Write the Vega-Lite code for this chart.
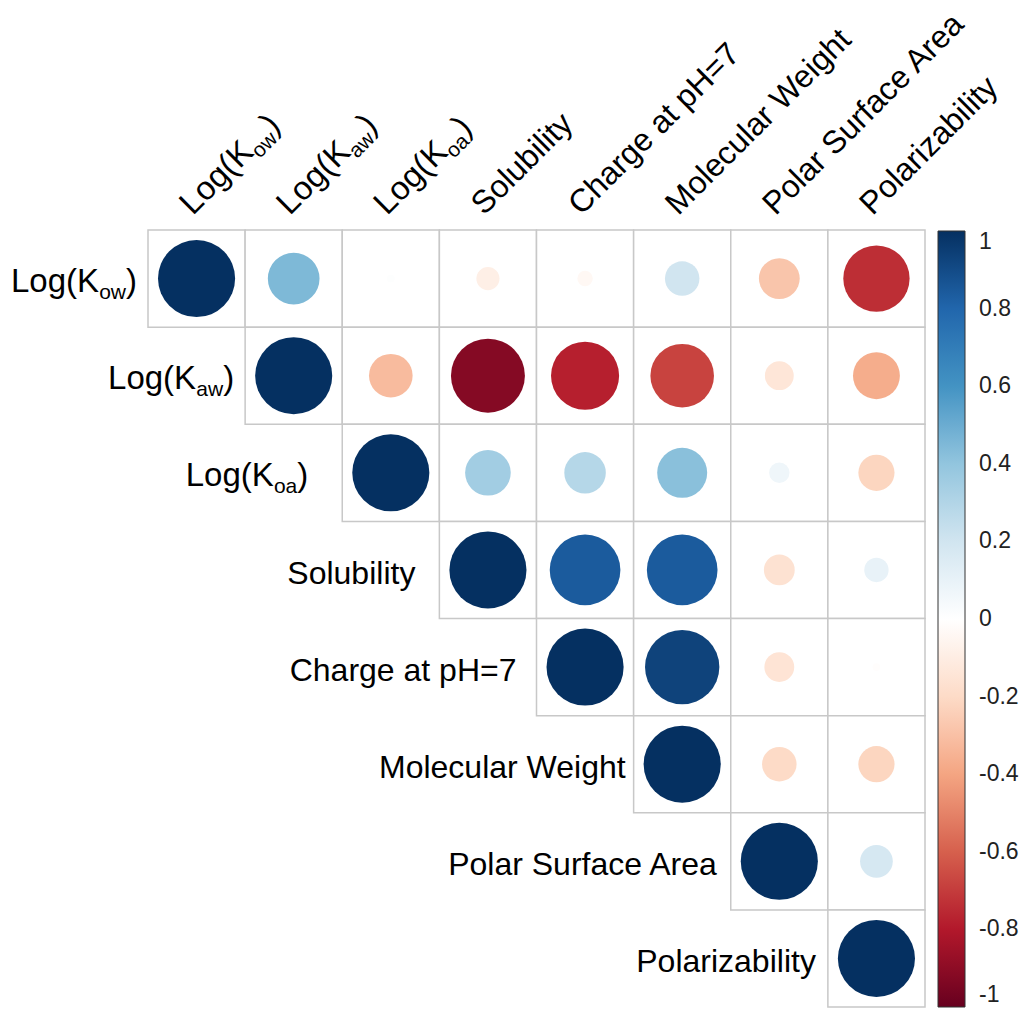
{
  "$schema": "https://vega.github.io/schema/vega-lite/v6.json",
  "width": 777,
  "height": 777,
  "autosize": "none",
  "padding": {"left": 148, "top": 230, "right": 94, "bottom": 13},
  "background": "white",
  "config": {"view": {"stroke": null}, "text": {"font": "Liberation Sans, Arial, sans-serif", "color": "#000000"}},
  "datasets": {
    "cells": [
      {"row": "Log(Kow)", "col": "Log(Kow)", "r": 1},
      {"row": "Log(Kow)", "col": "Log(Kaw)", "r": 0.45},
      {"row": "Log(Kow)", "col": "Log(Koa)", "r": 0.01},
      {"row": "Log(Kow)", "col": "Solubility", "r": -0.09},
      {"row": "Log(Kow)", "col": "Charge at pH=7", "r": -0.04},
      {"row": "Log(Kow)", "col": "Molecular Weight", "r": 0.2},
      {"row": "Log(Kow)", "col": "Polar Surface Area", "r": -0.28},
      {"row": "Log(Kow)", "col": "Polarizability", "r": -0.74},
      {"row": "Log(Kaw)", "col": "Log(Kaw)", "r": 1},
      {"row": "Log(Kaw)", "col": "Log(Koa)", "r": -0.32},
      {"row": "Log(Kaw)", "col": "Solubility", "r": -0.92},
      {"row": "Log(Kaw)", "col": "Charge at pH=7", "r": -0.78},
      {"row": "Log(Kaw)", "col": "Molecular Weight", "r": -0.68},
      {"row": "Log(Kaw)", "col": "Polar Surface Area", "r": -0.14},
      {"row": "Log(Kaw)", "col": "Polarizability", "r": -0.37},
      {"row": "Log(Koa)", "col": "Log(Koa)", "r": 1},
      {"row": "Log(Koa)", "col": "Solubility", "r": 0.35},
      {"row": "Log(Koa)", "col": "Charge at pH=7", "r": 0.29},
      {"row": "Log(Koa)", "col": "Molecular Weight", "r": 0.42},
      {"row": "Log(Koa)", "col": "Polar Surface Area", "r": 0.07},
      {"row": "Log(Koa)", "col": "Polarizability", "r": -0.22},
      {"row": "Solubility", "col": "Solubility", "r": 1},
      {"row": "Solubility", "col": "Charge at pH=7", "r": 0.84},
      {"row": "Solubility", "col": "Molecular Weight", "r": 0.84},
      {"row": "Solubility", "col": "Polar Surface Area", "r": -0.16},
      {"row": "Solubility", "col": "Polarizability", "r": 0.1},
      {"row": "Charge at pH=7", "col": "Charge at pH=7", "r": 1},
      {"row": "Charge at pH=7", "col": "Molecular Weight", "r": 0.93},
      {"row": "Charge at pH=7", "col": "Polar Surface Area", "r": -0.15},
      {"row": "Charge at pH=7", "col": "Polarizability", "r": -0.01},
      {"row": "Molecular Weight", "col": "Molecular Weight", "r": 1},
      {"row": "Molecular Weight", "col": "Polar Surface Area", "r": -0.2},
      {"row": "Molecular Weight", "col": "Polarizability", "r": -0.22},
      {"row": "Polar Surface Area", "col": "Polar Surface Area", "r": 1},
      {"row": "Polar Surface Area", "col": "Polarizability", "r": 0.18},
      {"row": "Polarizability", "col": "Polarizability", "r": 1}
    ],
    "labels": [
      {"name": "Log(Kow)", "main": "Log(K", "sub": "ow", "close": ")"},
      {"name": "Log(Kaw)", "main": "Log(K", "sub": "aw", "close": ")"},
      {"name": "Log(Koa)", "main": "Log(K", "sub": "oa", "close": ")"},
      {"name": "Solubility", "main": "Solubility", "sub": "", "close": ""},
      {"name": "Charge at pH=7", "main": "Charge at pH=7", "sub": "", "close": ""},
      {"name": "Molecular Weight", "main": "Molecular Weight", "sub": "", "close": ""},
      {"name": "Polar Surface Area", "main": "Polar Surface Area", "sub": "", "close": ""},
      {"name": "Polarizability", "main": "Polarizability", "sub": "", "close": ""}
    ]
  },
  "layer": [
    {
      "data": {"name": "cells"},
      "mark": {"type": "rect", "fill": "white", "stroke": "#c8c8c8", "strokeWidth": 1.5},
      "encoding": {
        "x": {"field": "col", "type": "nominal", "axis": null, "scale": {"domain": ["Log(Kow)","Log(Kaw)","Log(Koa)","Solubility","Charge at pH=7","Molecular Weight","Polar Surface Area","Polarizability"], "paddingInner": 0, "paddingOuter": 0}},
        "y": {"field": "row", "type": "nominal", "axis": null, "scale": {"domain": ["Log(Kow)","Log(Kaw)","Log(Koa)","Solubility","Charge at pH=7","Molecular Weight","Polar Surface Area","Polarizability"], "paddingInner": 0, "paddingOuter": 0}}
      }
    },
    {
      "data": {"name": "cells"},
      "mark": {"type": "circle", "opacity": 1, "stroke": null},
      "encoding": {
        "x": {"field": "col", "type": "nominal", "axis": null},
        "y": {"field": "row", "type": "nominal", "axis": null},
        "size": {"field": "r", "type": "quantitative", "legend": null, "scale": {"type": "linear", "domain": [-1, 0, 1], "range": [5945, 0, 5945]}},
        "color": {"field": "r", "type": "quantitative",
          "scale": {"type": "linear", "interpolate": "rgb", "domain": [-1, -0.8, -0.6, -0.4, -0.2, 0, 0.2, 0.4, 0.6, 0.8, 1],
            "range": ["#67001F", "#B2182B", "#D6604D", "#F4A582", "#FDDBC7", "#FFFFFF", "#D1E5F0", "#92C5DE", "#4393C3", "#2166AC", "#053061"]},
          "legend": {"orient": "none", "legendX": 790, "legendY": 1, "direction": "vertical", "title": null, "padding": 0,
            "gradientLength": 776, "gradientThickness": 27, "gradientStrokeColor": "#333333", "gradientStrokeWidth": 1,
            "values": [1, 0.8, 0.6, 0.4, 0.2, 0, -0.2, -0.4, -0.6, -0.8, -1],
            "labelExpr": "(datum.value == 1 || datum.value == 0 ? '\u2002' : '') + datum.value",
            "labelFont": "Liberation Sans, Arial, sans-serif", "labelFontSize": 23, "labelColor": "#222222",
            "labelOffset": 14, "labelOverlap": false}}
      }
    },
    {
      "data": {"name": "labels"},
      "transform": [{"filter": "datum.name == 'Solubility'"}],
      "mark": {"type": "text", "align": "right", "baseline": "alphabetic", "fontSize": 32, "dx": -24, "dy": 14},
      "encoding": {"x": {"field": "name", "type": "nominal", "bandPosition": 0}, "y": {"field": "name", "type": "nominal"}, "text": {"field": "main"}}
    },
    {
      "data": {"name": "labels"},
      "transform": [{"filter": "datum.name == 'Charge at pH=7'"}],
      "mark": {"type": "text", "align": "right", "baseline": "alphabetic", "fontSize": 32, "dx": -20, "dy": 14},
      "encoding": {"x": {"field": "name", "type": "nominal", "bandPosition": 0}, "y": {"field": "name", "type": "nominal"}, "text": {"field": "main"}}
    },
    {
      "data": {"name": "labels"},
      "transform": [{"filter": "datum.name == 'Molecular Weight'"}],
      "mark": {"type": "text", "align": "right", "baseline": "alphabetic", "fontSize": 32, "dx": -8, "dy": 14},
      "encoding": {"x": {"field": "name", "type": "nominal", "bandPosition": 0}, "y": {"field": "name", "type": "nominal"}, "text": {"field": "main"}}
    },
    {
      "data": {"name": "labels"},
      "transform": [{"filter": "datum.name == 'Polar Surface Area'"}],
      "mark": {"type": "text", "align": "right", "baseline": "alphabetic", "fontSize": 32, "dx": -14, "dy": 14},
      "encoding": {"x": {"field": "name", "type": "nominal", "bandPosition": 0}, "y": {"field": "name", "type": "nominal"}, "text": {"field": "main"}}
    },
    {
      "data": {"name": "labels"},
      "transform": [{"filter": "datum.name == 'Polarizability'"}],
      "mark": {"type": "text", "align": "right", "baseline": "alphabetic", "fontSize": 32, "dx": -12, "dy": 14},
      "encoding": {"x": {"field": "name", "type": "nominal", "bandPosition": 0}, "y": {"field": "name", "type": "nominal"}, "text": {"field": "main"}}
    },
    {
      "data": {"name": "labels"},
      "transform": [{"filter": "datum.name == 'Log(Kow)'"}],
      "encoding": {"x": {"field": "name", "type": "nominal", "bandPosition": 0}, "y": {"field": "name", "type": "nominal"}},
      "layer": [
        {"mark": {"type": "text", "align": "right", "baseline": "alphabetic", "fontSize": 33, "dx": -11, "dy": 13}, "encoding": {"text": {"field": "close"}}},
        {"mark": {"type": "text", "align": "right", "baseline": "alphabetic", "fontSize": 21, "dx": -22, "dy": 20}, "encoding": {"text": {"field": "sub"}}},
        {"mark": {"type": "text", "align": "right", "baseline": "alphabetic", "fontSize": 33, "dx": -49, "dy": 13}, "encoding": {"text": {"field": "main"}}}
      ]
    },
    {
      "data": {"name": "labels"},
      "transform": [{"filter": "datum.name == 'Log(Kaw)'"}],
      "encoding": {"x": {"field": "name", "type": "nominal", "bandPosition": 0}, "y": {"field": "name", "type": "nominal"}},
      "layer": [
        {"mark": {"type": "text", "align": "right", "baseline": "alphabetic", "fontSize": 33, "dx": -11, "dy": 13}, "encoding": {"text": {"field": "close"}}},
        {"mark": {"type": "text", "align": "right", "baseline": "alphabetic", "fontSize": 21, "dx": -22, "dy": 20}, "encoding": {"text": {"field": "sub"}}},
        {"mark": {"type": "text", "align": "right", "baseline": "alphabetic", "fontSize": 33, "dx": -49, "dy": 13}, "encoding": {"text": {"field": "main"}}}
      ]
    },
    {
      "data": {"name": "labels"},
      "transform": [{"filter": "datum.name == 'Log(Koa)'"}],
      "encoding": {"x": {"field": "name", "type": "nominal", "bandPosition": 0}, "y": {"field": "name", "type": "nominal"}},
      "layer": [
        {"mark": {"type": "text", "align": "right", "baseline": "alphabetic", "fontSize": 33, "dx": -34, "dy": 13}, "encoding": {"text": {"field": "close"}}},
        {"mark": {"type": "text", "align": "right", "baseline": "alphabetic", "fontSize": 21, "dx": -45, "dy": 20}, "encoding": {"text": {"field": "sub"}}},
        {"mark": {"type": "text", "align": "right", "baseline": "alphabetic", "fontSize": 33, "dx": -68.5, "dy": 13}, "encoding": {"text": {"field": "main"}}}
      ]
    },
    {
      "data": {"name": "labels"},
      "transform": [{"filter": "datum.sub == ''"}],
      "mark": {"type": "text", "align": "left", "baseline": "alphabetic", "fontSize": 32, "angle": 315, "dx": 7, "dy": -12.5},
      "encoding": {
        "x": {"field": "name", "type": "nominal"},
        "y": {"datum": "Log(Kow)", "type": "nominal", "bandPosition": 0},
        "text": {"field": "main"}
      }
    },
    {
      "data": {"name": "labels"},
      "transform": [{"filter": "datum.sub != ''"}],
      "mark": {"type": "text", "align": "left", "baseline": "alphabetic", "fontSize": 33, "angle": 315, "dx": 7, "dy": -12.5},
      "encoding": {
        "x": {"field": "name", "type": "nominal"},
        "y": {"datum": "Log(Kow)", "type": "nominal", "bandPosition": 0},
        "text": {"field": "main"}
      }
    },
    {
      "data": {"name": "labels"},
      "transform": [{"filter": "datum.sub != ''"}],
      "mark": {"type": "text", "align": "left", "baseline": "alphabetic", "fontSize": 21, "angle": 315, "dx": 95, "dy": -5.5},
      "encoding": {
        "x": {"field": "name", "type": "nominal"},
        "y": {"datum": "Log(Kow)", "type": "nominal", "bandPosition": 0},
        "text": {"field": "sub"}
      }
    },
    {
      "data": {"name": "labels"},
      "transform": [{"filter": "datum.sub == 'ow' || datum.sub == 'aw'"}],
      "mark": {"type": "text", "align": "left", "baseline": "alphabetic", "fontSize": 33, "angle": 315, "dx": 122, "dy": -12.5},
      "encoding": {
        "x": {"field": "name", "type": "nominal"},
        "y": {"datum": "Log(Kow)", "type": "nominal", "bandPosition": 0},
        "text": {"field": "close"}
      }
    },
    {
      "data": {"name": "labels"},
      "transform": [{"filter": "datum.sub == 'oa'"}],
      "mark": {"type": "text", "align": "left", "baseline": "alphabetic", "fontSize": 33, "angle": 315, "dx": 118.5, "dy": -12.5},
      "encoding": {
        "x": {"field": "name", "type": "nominal"},
        "y": {"datum": "Log(Kow)", "type": "nominal", "bandPosition": 0},
        "text": {"field": "close"}
      }
    }
  ]
}
